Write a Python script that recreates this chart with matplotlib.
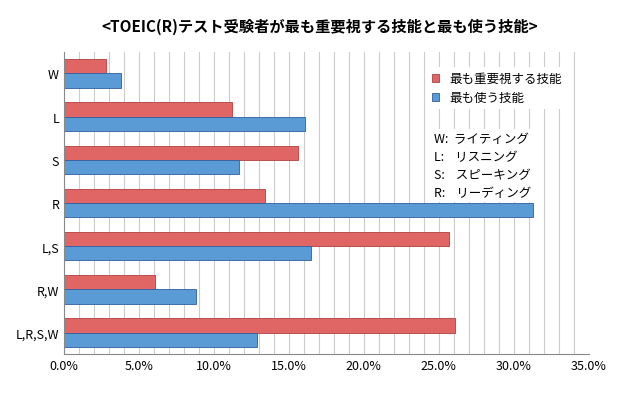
import matplotlib.pyplot as plt
import numpy as np

plt.rcParams['font.family'] = ['Noto Sans CJK JP', 'DejaVu Sans']

categories = ["W", "L", "S", "R", "L,S", "R,W", "L,R,S,W"]
most_important = [2.8, 11.2, 15.6, 13.4, 25.7, 6.1, 26.1]
most_used = [3.8, 16.1, 11.7, 31.3, 16.5, 8.8, 12.9]
xticks = [0, 5, 10, 15, 20, 25, 30, 35]

fig = plt.figure(figsize=(6.4, 4.06), dpi=100)
ax = fig.add_axes([0.1, 0.125, 0.82, 0.745])

y = np.arange(len(categories))
h = 0.33
ax.barh(y - h / 2, most_important, h, color="#e06666", edgecolor="#b04040", linewidth=0.6,
        label="最も重要視する技能")
ax.barh(y + h / 2, most_used, h, color="#5b9bd5", edgecolor="#2f5f9f", linewidth=0.6,
        label="最も使う技能")

ax.set_yticks(y)
ax.set_yticklabels(categories, fontsize=9)
ax.set_ylim(len(categories) - 0.5, -0.5)
ax.set_xlim(0, 35)
ax.set_xticks(xticks)
ax.set_xticks(np.arange(0, 36, 1), minor=True)
ax.set_xticklabels([f"{v:.1f}%" for v in xticks], fontsize=9)
ax.xaxis.grid(True, which="both", color="#cccccc", linewidth=0.8)
ax.set_axisbelow(True)
ax.tick_params(length=0, which="both")
for s in ["top", "right"]:
    ax.spines[s].set_visible(False)
ax.spines["left"].set_color("#888")
ax.spines["bottom"].set_color("#888")

leg = ax.legend(loc="upper right", bbox_to_anchor=(0.97, 0.97), fontsize=9, frameon=True,
                edgecolor="none", facecolor="white", framealpha=1,
                handlelength=0.6, handleheight=0.6)
ax.text(0.705, 0.735, "W:  ライティング\nL:    リスニング\nS:    スピーキング\nR:    リーディング",
        transform=ax.transAxes, fontsize=9, va="top", linespacing=1.5,
        bbox=dict(facecolor="white", edgecolor="none", pad=2))

fig.suptitle("<TOEIC(R)テスト受験者が最も重要視する技能と最も使う技能>", fontsize=11,
             fontweight="bold", y=0.955, x=0.5)
fig.savefig("out.png", dpi=100)
